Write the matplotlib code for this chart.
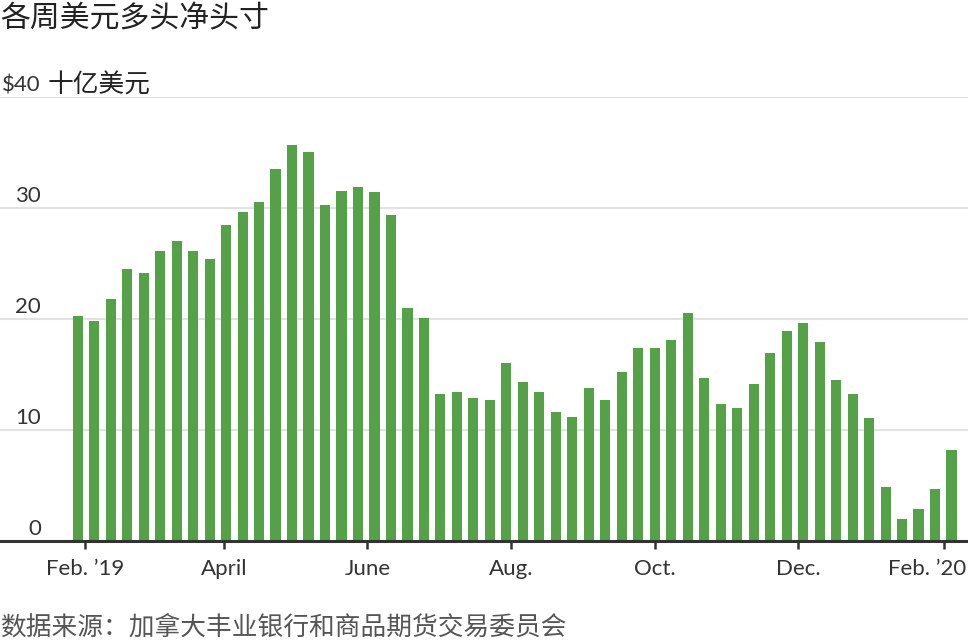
# Weekly net long USD positions, bar chart
import matplotlib
matplotlib.use("Agg")
import matplotlib.pyplot as plt
import matplotlib.transforms as mtransforms
import pandas as pd

plt.rcParams['font.family'] = ['Noto Sans CJK SC', 'DejaVu Sans']
LATIN = ['Lato', 'DejaVu Sans']

# Data (billions of USD), weekly Tuesday reports
start_date = "2019-01-29"
net_long = [20.3, 19.8, 21.8, 24.5, 24.1, 26.1, 27.0, 26.1, 25.4, 28.5,
            29.6, 30.5, 33.5, 35.7, 35.0, 30.3, 31.5, 31.9, 31.4, 29.4,
            21.0, 20.1, 13.2, 13.4, 12.9, 12.7, 16.0, 14.3, 13.4, 11.6,
            11.2, 13.8, 12.7, 15.2, 17.4, 17.4, 18.1, 20.5, 14.7, 12.3,
            12.0, 14.1, 16.9, 18.9, 19.6, 17.9, 14.5, 13.2, 11.1, 4.9,
            2.0, 2.9, 4.7, 8.2]
dates = pd.date_range(start_date, periods=len(net_long), freq="7D")

tick_dates = ["2019-02-01", "2019-04-01", "2019-06-01", "2019-08-01",
              "2019-10-01", "2019-12-01", "2020-02-01"]
tick_labels = ["Feb. ’19", "April", "June", "Aug.", "Oct.", "Dec.", "Feb. ’20"]
y_ticks = [0, 10, 20, 30, 40]
y_labels = ["0", "10", "20", "30", "$40"]

title = "各周美元多头净头寸"
unit = "十亿美元"
source = "数据来源：加拿大丰业银行和商品期货交易委员会"

fig = plt.figure(figsize=(9.68, 6.44), dpi=100)
ax = fig.add_axes([0, 0.16, 1, 0.6894])

ax.bar(dates, net_long, width=4.3, color="#54a147", zorder=2)

ax.set_xlim(pd.Timestamp("2018-12-27"), pd.Timestamp("2020-02-11"))
ax.set_ylim(0, 40)

# Gridlines
ax.set_yticks(y_ticks)
ax.yaxis.grid(True, color="#e2e2e2", linewidth=1.5, zorder=0)
ax.tick_params(axis="y", length=0, labelleft=False)

for s in ["top", "right", "left"]:
    ax.spines[s].set_visible(False)
ax.spines["bottom"].set_color("#333333")
ax.spines["bottom"].set_linewidth(2.2)
ax.spines["bottom"].set_zorder(3)

ax.set_xticks([pd.Timestamp(d) for d in tick_dates])
ax.set_xticklabels(tick_labels, family=LATIN)
ax.tick_params(axis="x", length=6, width=1.8, color="#333333",
               labelsize=16, labelcolor="#333333", pad=7)
# keep the last month label inside the figure
last = ax.get_xticklabels()[-1]
last.set_ha("right")
last.set_transform(last.get_transform() +
                   mtransforms.ScaledTranslation(0.22, 0, fig.dpi_scale_trans))

# Y labels above the gridlines
trans = mtransforms.blended_transform_factory(fig.transFigure, ax.transData)
for v, lab in zip(y_ticks, y_labels):
    ax.text(41 / 968, v + 0.5, lab, transform=trans, ha="right", va="baseline",
            fontsize=16, color="#333333", family=LATIN)
ax.text(48 / 968, 40.4, unit, transform=trans, ha="left", va="baseline",
        fontsize=18.5, color="#222222", fontweight="medium")

fig.text(0, 1 - 19 / 644, title, ha="left", va="center", fontsize=21.5,
         color="#222222", fontweight="medium")
fig.text(0, 1 - 628 / 644, source, ha="left", va="center", fontsize=18.5,
         color="#555555")

fig.savefig("out.png", dpi=100)
